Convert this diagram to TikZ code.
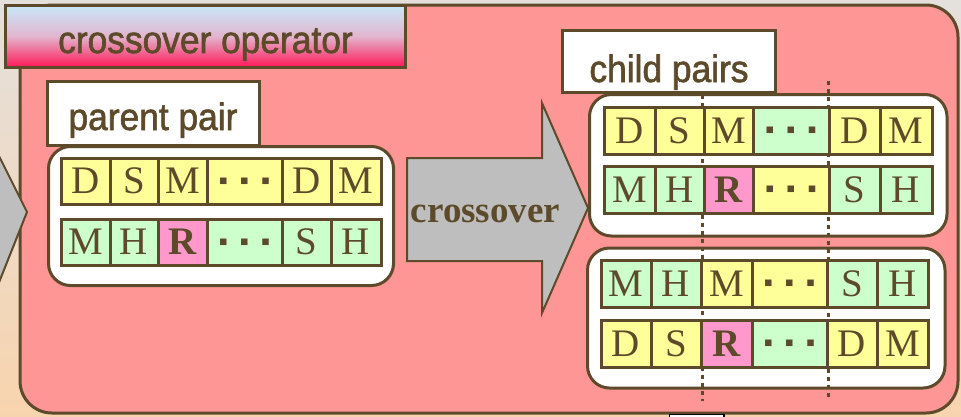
\documentclass[tikz,border=0pt]{standalone}
\usepackage{fontspec}
\setmainfont{Liberation Serif}
\newfontfamily\labelfont[FakeStretch=0.93,FakeBold=1.6]{Liberation Sans}
\newfontfamily\symfont{DejaVu Sans}

\definecolor{ink}{HTML}{5C4A2B}
\definecolor{panel}{HTML}{FF9696}
\definecolor{cellY}{HTML}{FFFF99}
\definecolor{cellG}{HTML}{CCFFCC}
\definecolor{cellP}{HTML}{FF99CC}
\definecolor{arrowgray}{HTML}{BEBEBE}
\definecolor{bgtop}{HTML}{E4E0DC}
\definecolor{bgbot}{HTML}{F8D4AE}
\definecolor{titletop}{HTML}{C8E8FA}
\definecolor{titlemid}{HTML}{E2B6CE}
\definecolor{titlebot}{HTML}{FF1858}

\tikzset{
  outline/.style={draw=ink, line width=3pt},
  cell/.style={outline, inner sep=0pt, text=ink, font=\fontsize{39}{39}\selectfont},
  tag/.style={outline, fill=white},
  tagtext/.style={anchor=base, text=ink, inner sep=0pt, font=\labelfont\fontsize{38}{38}\selectfont},
  pairbox/.style={outline, fill=white, rounded corners=22pt},
  fatarrow/.style={draw=ink, line width=2pt, fill=arrowgray},
  cut/.style={draw=ink, line width=3pt, dash pattern=on 4pt off 4pt},
}

% gene separator dots and the bold mutated gene
\newcommand\gendots{{\symfont\fontsize{8.5}{8.5}\selectfont ■\kern13pt■\kern13pt■}}
\newcommand\Rb{\textbf{R}}

% one chromosome row: name prefix, top y, bottom y, list of x0/x1/colour/gene
\newcommand\generow[4]{%
  \foreach \xa/\xb/\col/\txt [count=\k] in {#4}{%
    \node[cell, fill=\col, minimum width={\xb-\xa}, minimum height={#3-#2}]
      (#1-\k) at ({(\xa+\xb)/2},{(#2+#3)/2}) {\txt};}}

\begin{document}
\begin{tikzpicture}[x=1pt,y=-1pt]
\useasboundingbox (0,0) rectangle (961,416);
\clip (0,0) rectangle (961,416);

% backdrop and operator panel
\shade[top color=bgtop, bottom color=bgbot] (0,0) rectangle (961,416);
\draw[outline, fill=panel, rounded corners=32pt] (20,5) rectangle (958,413);

% incoming arrow on the left edge
\draw[fatarrow] (-5,148) -- (27,212) -- (-5,292.5);

% panel title
\draw[outline, top color=titletop, bottom color=titlebot, middle color=titlemid]
  (5,5) rectangle (405,67);
\node[tagtext] (title) at (205.5,53) {crossover operator};

% parent pair
\draw[pairbox] (48.5,146.5) rectangle (393.5,285.5);
\draw[tag] (47.5,81.5) rectangle (259,145);
\node[tagtext] (parentlbl) at (153,130) {parent pair};
\generow{pa}{158}{204}{61/110/cellY/D, 110/158/cellY/S, 158/207/cellY/M,
  207/282/cellY/\gendots, 282/331/cellY/D, 331/381/cellY/M}
\generow{pb}{219}{265}{61/110/cellG/M, 110/158/cellG/H, 158/207/cellP/\Rb,
  207/282/cellG/\gendots, 282/331/cellG/S, 331/381/cellG/H}

% crossover step
\draw[fatarrow] (407,158) -- (542,158) -- (542,103) -- (588,208) -- (542,313)
  -- (542,261) -- (407,261) -- cycle;
\node[anchor=base, text=ink, inner sep=0pt, font=\bfseries\fontsize{37}{37}\selectfont]
  (xolbl) at (485.5,222) {crossover};

% child pairs
\draw[pairbox] (589.5,94.5) rectangle (947,236);
\draw[pairbox] (587.5,248) rectangle (945,388);

% crossover points
\coordinate (cutLtop) at (702,95);
\coordinate (cutLbot) at (702,401);
\coordinate (cutRtop) at (828.5,81);
\coordinate (cutRbot) at (828.5,398);
\draw[cut] (cutLtop) -- (cutLbot);
\draw[cut] (cutRtop) -- (cutRbot);

\generow{ca}{107}{154}{604/655/cellY/D, 655/704/cellY/S, 704/753/cellY/M,
  753/829/cellG/\gendots, 829/880/cellY/D, 880/932/cellY/M}
\generow{cb}{166}{213}{604/655/cellG/M, 655/704/cellG/H, 704/753/cellP/\Rb,
  753/829/cellY/\gendots, 829/880/cellG/S, 880/932/cellG/H}
\generow{cc}{260}{307}{601/651/cellG/M, 651/701/cellG/H, 701/752/cellY/M,
  752/827/cellY/\gendots, 827/877/cellG/S, 877/928/cellG/H}
\generow{cd}{320}{367}{601/651/cellY/D, 651/701/cellY/S, 701/752/cellP/\Rb,
  752/827/cellG/\gendots, 827/877/cellY/D, 877/928/cellY/M}

\draw[tag] (562,30) rectangle (775.5,92.5);
\node[tagtext] (childlbl) at (669,82) {child pairs};

% edge of the next box below the panel
\draw[black, line width=1.5pt, fill=white] (669.5,414.5) rectangle (724,430);
\end{tikzpicture}
\end{document}
